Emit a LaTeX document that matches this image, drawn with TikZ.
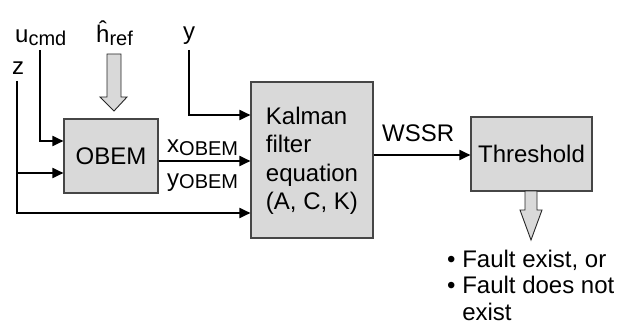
\documentclass[tikz,border=0pt]{standalone}
\usepackage{fontspec}
\setmainfont{Liberation Sans}
\usetikzlibrary{arrows.meta}
\definecolor{boxgray}{RGB}{217,217,217}
\definecolor{edgegray}{RGB}{70,70,70}
\newcommand\subs[1]{\raisebox{-2.5pt}{\fontsize{20}{20}\selectfont #1}}
\begin{document}
\begin{tikzpicture}[x=1pt,y=-1pt,
  blockbox/.style={draw=edgegray,line width=1.1pt,fill=boxgray,inner sep=0pt},
  arr/.style={line width=1.8pt,-{Triangle[length=11pt,width=10pt]}},
  lbl/.style={inner sep=0pt,anchor=base west},
  hollow/.style={draw=black!85,line width=0.9pt,fill=boxgray},
  every node/.style={font=\fontsize{24}{28.5}\selectfont}]
\useasboundingbox (0,0) rectangle (618,326);
% blocks
\node[blockbox,minimum width=94pt,minimum height=74pt] (obem) at (111,156) {OBEM};
\node[blockbox,minimum width=122pt,minimum height=156pt] (kalman) at (312,160) {};
\node[inner sep=0pt,align=left] (kaltext) at (312,161) {Kalman\\filter\\equation\\(A, C, K)};
\node[blockbox,minimum width=121pt,minimum height=74pt] (thresh) at (531.5,154) {Threshold};
% labels
\node[lbl] (ucmd) at (15,43) {u\subs{cmd}};
\node[lbl] (href) at (96,43) {ĥ\subs{ref}};
\node[lbl] (ylab) at (183,40) {y};
\node[lbl] (zlab) at (12,75) {z};
\node[lbl] (xob) at (167,153) {x\subs{OBEM}};
\node[lbl] (yob) at (167,186) {y\subs{OBEM}};
\node[lbl] (wssr) at (382,142) {WSSR};
\node[inner sep=0pt,anchor=north west,align=left,font=\fontsize{24}{26.5}\selectfont] (out) at (447,249.5)
  {• Fault exist, or\\• Fault does not\\\hphantom{• }exist};
% input coordinates
\coordinate (uc) at (40,50);
\coordinate (zc) at (17,81);
\coordinate (yc) at (189,50);
% connectors
\draw[arr] (uc) |- (obem.west |- 0,141);
\draw[arr] (zc) |- (kalman.west |- 0,213);
\draw[arr] (zc |- 0,173) -- (obem.west |- 0,173);
\draw[arr] (yc) |- (kalman.west |- 0,115);
\draw[arr] (obem.east |- 0,161) -- (kalman.west |- 0,161);
\draw[arr] (kalman.east |- 0,155) -- (thresh.west |- 0,155);
% hollow arrows
\draw[hollow] (107,54) -- (121,54) -- (121,97) -- (127,97) -- (114,111) -- (100,97) -- (107,97) -- cycle;
\draw[hollow] (525,191) -- (537,191) -- (537,210) -- (542,210) -- (531,240) -- (520,210) -- (525,210) -- cycle;
\end{tikzpicture}
\end{document}
